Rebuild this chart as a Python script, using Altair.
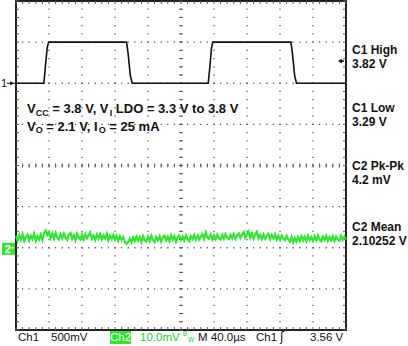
import altair as alt
import numpy as np
import pandas as pd

# ---------------- data ----------------
# Channel 1 (500 mV/div) square wave, breakpoints
ch1_t_us = [0, 33.8, 35.2, 37.8, 39.6, 134.0, 135.8, 138.6, 140.8,
            233.0, 234.6, 237.0, 238.6, 333.2, 335.0, 337.8, 340.0, 400]
ch1_v = [3.29, 3.29, 3.45, 3.72, 3.79, 3.79, 3.66, 3.38, 3.29,
         3.29, 3.45, 3.72, 3.79, 3.79, 3.66, 3.38, 3.29, 3.29]

# Channel 2 (10 mV/div) output ripple, mV above 2.100 V, sampled every 2 us
ch2_mv = [
    2.9, 1.7, 3.1, 2.0, 3.3, 1.6, 2.6, 3.2, 1.8, 2.9,
    2.1, 3.4, 1.7, 2.8, 2.0, 3.2, 1.9, 3.5, 4.2, 3.1,
    3.8, 2.4, 3.5, 2.2, 3.6, 2.5, 2.0, 3.3, 2.3, 3.5,
    2.4, 1.9, 3.2, 3.6, 2.2, 3.1, 1.8, 3.4, 2.4, 2.0,
    3.2, 2.0, 3.3, 2.3, 3.0, 3.7, 2.2, 3.0, 1.9, 3.2,
    2.2, 3.3, 2.0, 3.0, 2.3, 3.4, 1.8, 2.9, 2.1, 3.1,
    2.0, 2.9, 1.7, 2.8, 1.9, 2.6, 1.4, 0.9, 1.4, 2.2,
    1.3, 2.5, 1.6, 2.7, 1.7, 2.6, 1.4, 2.8, 1.8, 1.5,
    2.7, 1.6, 2.9, 1.9, 1.4, 2.6, 1.8, 2.8, 1.5, 2.5,
    2.9, 1.8, 2.7, 1.6, 3.0, 2.0, 2.8, 1.5, 2.6, 2.9,
    1.9, 2.7, 1.8, 3.0, 2.0, 1.6, 2.8, 2.1, 3.1, 1.9,
    2.9, 2.0, 2.7, 3.3, 2.1, 3.7, 2.5, 2.2, 3.2, 2.0,
    3.0, 2.1, 3.2, 2.3, 2.0, 3.1, 2.2, 3.3, 2.4, 2.1,
    3.1, 2.3, 3.3, 2.2, 3.0, 3.5, 2.4, 3.2, 3.8, 2.5,
    3.3, 4.0, 2.4, 3.5, 2.2, 3.2, 3.9, 2.3, 3.1, 2.1,
    3.2, 2.2, 3.0, 3.4, 2.1, 3.1, 2.3, 3.3, 2.0, 2.9,
    1.9, 3.0, 2.2, 1.8, 2.9, 2.0, 1.5, 2.6, 1.3, 2.4,
    1.5, 2.6, 1.7, 2.8, 1.8, 2.7, 1.6, 2.9, 1.9, 2.6,
    1.7, 2.8, 1.8, 3.0, 2.0, 1.6, 2.7, 1.9, 2.9, 1.7,
    2.6, 1.8, 2.8, 1.6, 2.7, 2.0, 1.7, 2.9, 1.9, 2.7,
    2.0,
]
ch2_step_us = 2

# Measurement read-outs
meas_names = ["C1 High", "C1 Low", "C2 Pk-Pk", "C2 Mean"]
meas_values = ["3.82 V", "3.29 V", "4.2 mV", "2.10252 V"]

# Scope settings
TIME_DIV_US = 40
CH1_VDIV, CH1_REF, CH1_POS = 0.5, 3.29, 2.0     # V/div, level at marker, marker div
CH2_MVDIV, CH2_POS = 10.0, -2.0
TRIG_V = 3.56

# ---------------- layout ----------------
W, H = 330, 329
PL, PT = 16, 1
GREEN = "#2fe82f"
GREEN_TXT = "#1fcf1f"

xs = alt.Scale(domain=[0, 10 * TIME_DIV_US], nice=False, zero=False)
ys = alt.Scale(domain=[-4, 4], nice=False, zero=False)

ch1 = pd.DataFrame({"t": ch1_t_us, "v": ch1_v})
ch1["div"] = CH1_POS + (ch1["v"] - CH1_REF) / CH1_VDIV
ch2 = pd.DataFrame({"t": np.arange(len(ch2_mv)) * ch2_step_us, "mv": ch2_mv})
ch2["div"] = CH2_POS + ch2["mv"] / CH2_MVDIV

# graticule: dotted major lines + minor-division tick marks
px_us = 400 / W
px_div = 8 / H
mx = np.arange(0, 400.001, TIME_DIV_US / 5)
my = np.arange(-4, 4.001, 0.2)
dots = []
for yv in range(-3, 4):
    for x in mx[1:-1]:
        dots.append((x, yv))
for xv in range(40, 400, 40):
    for y in my[1:-1]:
        dots.append((xv, y))
dots = pd.DataFrame(dots, columns=["x", "y"])

rows = []
for x in mx:
    rows.append((x, x, -2 * px_div, 2 * px_div))
    rows.append((x, x, 4, 4 - 3 * px_div))
    rows.append((x, x, -4, -4 + 3 * px_div))
for y in my:
    rows.append((200 - 2 * px_us, 200 + 2 * px_us, y, y))
    rows.append((0, 3 * px_us, y, y))
    rows.append((400 - 3 * px_us, 400, y, y))
ticks = pd.DataFrame(rows, columns=["x", "x2", "y", "y2"])

dot_layer = alt.Chart(dots).mark_square(size=1.6, color="#555", opacity=1).encode(
    x=alt.X("x:Q", scale=xs, axis=None),
    y=alt.Y("y:Q", scale=ys, axis=None),
)

tick_layer = alt.Chart(ticks).mark_rule(color="#555", strokeWidth=1).encode(
    x=alt.X("x:Q", scale=xs, axis=None), x2="x2:Q",
    y=alt.Y("y:Q", scale=ys, axis=None), y2="y2:Q",
)

ch1_layer = alt.Chart(ch1).mark_line(color="#111", strokeWidth=1.6).encode(
    x=alt.X("t:Q", scale=xs, axis=None),
    y=alt.Y("div:Q", scale=ys, axis=None),
)

ch2_layer = alt.Chart(ch2).mark_line(color=GREEN, strokeWidth=2.2).encode(
    x=alt.X("t:Q", scale=xs, axis=None), y=alt.Y("div:Q", scale=ys, axis=None)
)

one = pd.DataFrame({"k": [0]})


def label(txt, ax, ay, size=12, weight="normal", color="#111",
          font="Liberation Sans", align="left"):
    return alt.Chart(pd.DataFrame({"t": [txt]})).mark_text(
        align=align, baseline="alphabetic", font=font, fontSize=size,
        fontWeight=weight, color=color
    ).encode(x=alt.value(ax - PL), y=alt.value(ay - PT), text="t:N")


def box(x1, x2, y1, y2, color):
    return alt.Chart(one).mark_rect(color=color).encode(
        x=alt.value(x1 - PL), x2=alt.value(x2 - PL),
        y=alt.value(y1 - PT), y2=alt.value(y2 - PT))


# Arial-bold advance widths (per 1000 em)
AW = {" ": 278, "=": 584, ".": 278, ",": 278, "V": 667, "C": 722, "I": 278,
      "L": 611, "D": 722, "O": 778, "t": 333, "o": 611, "m": 889, "A": 722}


def width(s, size):
    return sum(AW.get(c, 556) for c in s) * size / 1000


def rich(segments, ax, ay):
    layers = []
    x = ax
    for txt, sub in segments:
        size = 9 if sub else 13
        lead = len(txt) - len(txt.lstrip(" "))
        layers.append(label(txt.strip(" "), x + width(" " * lead, size),
                            ay + (2.5 if sub else 0), size=size, weight="bold"))
        x += width(txt, size)
    return layers


texts = []
texts += rich([("V", 0), ("CC", 1), (" = 3.8 V, V", 0), ("I", 1),
               (" LDO = 3.3 V to 3.8 V", 0)], 27, 113)
texts += rich([("V", 0), ("O", 1), (" = 2.1 V, I", 0), ("O", 1),
               (" = 25 mA", 0)], 27, 130.5)

for (n, v), yb in zip(zip(meas_names, meas_values), [54, 112, 170, 231]):
    texts.append(label(n, 352, yb, size=12, weight="bold"))
    texts.append(label(v, 352, yb + 13.5, size=12, weight="bold"))

# bottom status line
texts += [
    label("Ch1", 18, 341, size=11.5),
    label("500mV", 51, 341, size=11.5),
    box(110, 131, 331, 344, GREEN),
    label("Ch2", 120.5, 341, size=11.5, color="white", align="center"),
    label("10.0mV", 140, 341, size=11.5, color=GREEN_TXT),
    label("B", 183, 336, size=6.5, color=GREEN_TXT),
    label("W", 188, 342, size=6.5, color=GREEN_TXT),
    label("M 40.0\u00b5s", 198, 341, size=11.5),
    label("Ch1", 256, 341, size=11.5),
    label("\u0283", 280, 341, size=12, font="DejaVu Sans"),
    label("3.56 V", 310, 341, size=11.5),
]

# channel markers
y1m = PT + (4 - CH1_POS) * H / 8
y2m = PT + (4 - CH2_POS) * H / 8
ytr = PT + (4 - (CH1_POS + (TRIG_V - CH1_REF) / CH1_VDIV)) * H / 8
texts += [
    label("1", 1, y1m + 4, size=11),
    alt.Chart(one).mark_point(shape="triangle-right", filled=True, color="#111",
                              size=18, opacity=1).encode(
        x=alt.value(12 - PL), y=alt.value(y1m - PT)),
    alt.Chart(one).mark_rule(color="#111", strokeWidth=1).encode(
        x=alt.value(7 - PL), x2=alt.value(15 - PL), y=alt.value(y1m - PT)),
    box(2, 15, y2m - 5, y2m + 7, GREEN),
    label("2", 4.5, y2m + 5.5, size=11.5, weight="bold", color="white"),
    alt.Chart(one).mark_point(shape="triangle-right", filled=True, color="white",
                              size=10, opacity=1).encode(
        x=alt.value(13 - PL), y=alt.value(y2m - PT)),
    alt.Chart(one).mark_point(shape="triangle-left", filled=True, color="#111",
                              size=22, opacity=1).encode(
        x=alt.value(340 - PL), y=alt.value(ytr - PT)),
    alt.Chart(one).mark_rule(color="#111", strokeWidth=1.5).encode(
        x=alt.value(340 - PL), x2=alt.value(344 - PL), y=alt.value(ytr - PT)),
]

chart = alt.layer(dot_layer, tick_layer, ch1_layer, ch2_layer, *texts).properties(
    width=W, height=H,
    padding={"left": PL, "top": PT, "right": 408 - PL - W, "bottom": 346 - PT - H},
    autosize=alt.AutoSizeParams(type="none"),
    background="white",
).configure_view(stroke="#222", strokeWidth=2)

chart.save("out.html", embed_options={"renderer": "svg", "actions": False})
